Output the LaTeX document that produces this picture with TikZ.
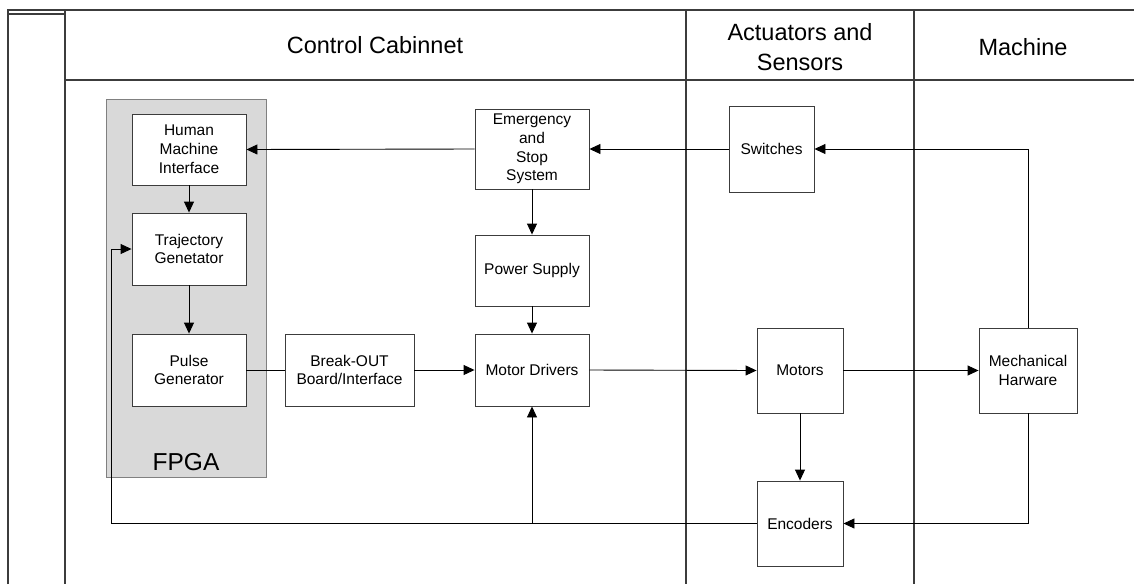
\documentclass[tikz,border=0pt]{standalone}
\usepackage{fontspec}
\setmainfont{Liberation Sans}
\usetikzlibrary{arrows.meta}
\definecolor{fpgagray}{RGB}{217,217,217}
\definecolor{linegray}{RGB}{60,60,60}
\begin{document}
\begin{tikzpicture}[x=1pt,y=-1pt,
  blk/.style={draw=linegray,line width=0.9pt,fill=white,rectangle,align=center,inner sep=1pt,
    font=\fontsize{15.5}{18.8}\selectfont},
  arr/.style={-{Triangle[length=11pt,width=10pt]},line width=0.9pt,draw=black},
  ln/.style={line width=0.9pt,draw=black},
  frame/.style={line width=1.2pt,draw=linegray},
  hdr/.style={align=center,font=\fontsize{23.5}{30}\selectfont}]
\useasboundingbox (0,0) rectangle (1134,584);
% frame
\draw[frame] (8,584) -- (8,10) -- (1134,10);
\draw[frame] (8,14) -- (65,14);
\draw[frame] (65,10) -- (65,584);
\draw[frame] (65,80) -- (1134,80);
\draw[frame] (686,10) -- (686,584);
\draw[frame] (914,10) -- (914,584);
\node[hdr] (h1) at (375,45) {Control Cabinnet};
\node[hdr] (h2) at (800,47) {Actuators and\\Sensors};
\node[hdr] (h3) at (1023,47) {Machine};
% FPGA
\draw[draw=gray,line width=0.9pt,fill=fpgagray] (106,99) rectangle (266,477);
\node[font=\fontsize{24.5}{28}\selectfont] (fpga) at (186,462) {FPGA};
% blocks
\node[blk,minimum width=114pt,minimum height=71pt] (hmi) at (189,149.5) {Human\\Machine\\Interface};
\node[blk,minimum width=114pt,minimum height=72pt] (traj) at (189,249) {Trajectory\\Genetator};
\node[blk,minimum width=114pt,minimum height=72pt] (pulse) at (189,370) {Pulse\\Generator};
\node[blk,minimum width=129pt,minimum height=72pt] (bo) at (349.5,370) {Break-OUT\\Board/Interface};
\node[blk,minimum width=114pt,minimum height=72pt] (md) at (532,370) {Motor Drivers};
\node[blk,minimum width=114pt,minimum height=80pt] (em) at (532,149) {Emergency\\and\\Stop\\System};
\node[blk,minimum width=114pt,minimum height=71pt] (ps) at (532,270.5) {Power Supply};
\node[blk,minimum width=85pt,minimum height=86pt] (sw) at (771.5,149) {Switches};
\node[blk,minimum width=86pt,minimum height=85pt] (mot) at (800,370.5) {Motors};
\node[blk,minimum width=98pt,minimum height=85pt] (mech) at (1028,370.5) {Mechanical\\Harware};
\node[blk,minimum width=86pt,minimum height=85pt] (enc) at (800,523.5) {Encoders};
% connectors
\coordinate (fb) at (111,249);
\draw[arr] (hmi.south) -- (traj.north);
\draw[arr] (traj.south) -- (pulse.north);
\draw[ln] (pulse.east) -- (bo.west);
\draw[arr] (bo.east) -- (md.west);
\draw[arr] (em.west) -- (hmi.east);
\draw[arr] (em.south) -- (ps.north);
\draw[arr] (ps.south) -- (md.north);
\draw[arr] (sw.west) -- (em.east);
\draw[arr] (md.east) -- (mot.west);
\draw[arr] (mot.east) -- (mech.west);
\draw[arr] (mot.south) -- (enc.north);
\draw[arr] (mech.north) |- (sw.east);
\draw[arr] (mech.south) |- (enc.east);
\draw[arr] (enc.west) -| (fb) -- (traj.west);
\draw[arr] (md.south |- enc.west) -- (md.south);
\end{tikzpicture}
\end{document}
